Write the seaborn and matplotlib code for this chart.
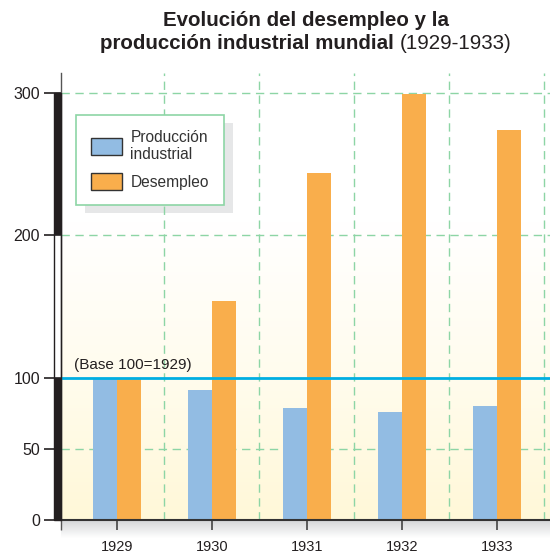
import numpy as np
import pandas as pd
import matplotlib.pyplot as plt
import seaborn as sns
from matplotlib.patches import Patch, Rectangle
from matplotlib.colors import LinearSegmentedColormap
from matplotlib.transforms import IdentityTransform

# datos (base 100 = 1929)
years = ['1929', '1930', '1931', '1932', '1933']
produccion = [100, 91, 79, 76, 80]
desempleo = [100, 154, 244, 299, 274]
series = ['Producción industrial', 'Desempleo']
legend_labels = ['Producción\nindustrial', 'Desempleo']
colores = ['#92bce3', '#f9ae4c']
yticks = [0, 50, 100, 200, 300]

df = pd.DataFrame({
    'año': years * 2,
    'valor': produccion + desempleo,
    'serie': [series[0]] * len(years) + [series[1]] * len(years),
})

sns.set_theme(style='white')
plt.rcParams['font.family'] = ['Liberation Sans', 'DejaVu Sans']

verde = '#8dd5a5'
oscuro = '#231f20'

fig = plt.figure(figsize=(5.5, 5.55), dpi=100)
ax = fig.add_axes([61 / 550, 35 / 555, 489 / 550, 447 / 555])

sns.barplot(data=df, x='año', y='valor', hue='serie', palette=colores,
            width=0.5, saturation=1, legend=False, ax=ax, zorder=2,
            linewidth=0)

x0, x1 = -0.59, 4.56
ymax = 314

# fondo degradado (amarillo claro abajo, blanco arriba)
grad = np.linspace(0, 1, 256).reshape(-1, 1)
cmap_bg = LinearSegmentedColormap.from_list('bg', ['#fff8d8', '#fffcee', '#ffffff', '#ffffff'])
ax.imshow(grad, cmap=cmap_bg, extent=[x0, x1, 0, ymax], origin='lower',
          aspect='auto', zorder=0)

# rejilla discontinua
for yv in [50, 200, 300]:
    ax.axhline(yv, color=verde, lw=1, dashes=(6, 4), zorder=1.8)
for xv in [0.5, 1.5, 2.5, 3.5, 4.5]:
    ax.axvline(xv, color=verde, lw=1, dashes=(6, 4), zorder=1.8)

# línea base 100
ax.axhline(100, color='#00aee2', lw=2, zorder=3)
ax.text(-0.45, 104, '(Base 100=1929)', fontsize=11, color=oscuro,
        ha='left', va='bottom', zorder=4)

ax.set_xlim(x0, x1)
ax.set_ylim(0, ymax)
ax.set_xlabel('')
ax.set_ylabel('')
ax.set_yticks(yticks)

for s in ['top', 'right']:
    ax.spines[s].set_visible(False)
ax.spines['left'].set_color('#555555')
ax.spines['left'].set_linewidth(1)
ax.spines['bottom'].set_color('#333333')
ax.spines['bottom'].set_linewidth(1.5)

ax.tick_params(axis='y', left=True, length=12, width=1.2, color=oscuro,
               pad=3, labelsize=11.5, labelcolor=oscuro)
ax.tick_params(axis='x', bottom=True, length=7.5, width=1.2, color='#444444',
               pad=7, labelsize=10.5, labelcolor=oscuro)
ax.set_xticks([x0], minor=True)
ax.tick_params(axis='x', which='minor', bottom=True, length=7.5, width=1,
               color='#555555')

# barra gruesa del eje y (escala cortada)
ytr = ax.get_yaxis_transform()
bw = 7 / 489
for lo, hi in [(0, 100), (200, 300)]:
    ax.add_patch(Rectangle((-bw, lo), bw, hi - lo, transform=ytr,
                           facecolor=oscuro, edgecolor='none',
                           clip_on=False, zorder=4))
ax.add_patch(Rectangle((-bw, 0), bw, 300, transform=ytr, fill=False,
                       edgecolor=oscuro, lw=1, clip_on=False, zorder=4))

# leyenda
handles = [Patch(facecolor=c, edgecolor='#333333', lw=1) for c in colores]
leg = ax.legend(handles, legend_labels, loc='upper left',
                bbox_to_anchor=(76 / 550, 1 - 115 / 555),
                bbox_transform=fig.transFigure, borderaxespad=0,
                frameon=True, fancybox=False, edgecolor=verde, framealpha=1,
                fontsize=11.2, handlelength=2.0, handleheight=1.3,
                handletextpad=0.55, borderpad=0.95, labelspacing=0.7)
leg.get_frame().set_linewidth(1.2)
for t in leg.get_texts():
    t.set_color('#333333')
leg.set_zorder(6)

# sombra bajo el eje x
sh = fig.add_axes([61 / 550, 17 / 555, 489 / 550, 18 / 555], zorder=-1)
cmap_sh = LinearSegmentedColormap.from_list('sh', ['#ffffff', '#d4d6d8'])
sh.imshow(grad, cmap=cmap_sh, origin='lower', aspect='auto')
sh.axis('off')

# título
t1 = fig.text(306 / 550, 1 - 11 / 555, 'Evolución del desempleo y la',
              ha='center', va='top', fontsize=14.8, fontweight='bold',
              color=oscuro)
t2 = fig.text(100 / 550, 1 - 34 / 555, 'producción industrial mundial',
              ha='left', va='top', fontsize=14.8, fontweight='bold',
              color=oscuro)
ax.annotate('(1929-1933)', xy=(1, 0), xycoords=t2, xytext=(4, 0),
            textcoords='offset points', ha='left', va='bottom',
            fontsize=14.8, color=oscuro, annotation_clip=False)

# sombra de la leyenda
fig.canvas.draw()
bb = leg.get_frame().get_window_extent()
ax.add_artist(Rectangle((bb.x0 + 9, bb.y0 - 8), bb.width, bb.height,
                        transform=IdentityTransform(), facecolor='#e6e7e8',
                        edgecolor='none', clip_on=False, zorder=1.5))

fig.savefig('out.png', dpi=100)
